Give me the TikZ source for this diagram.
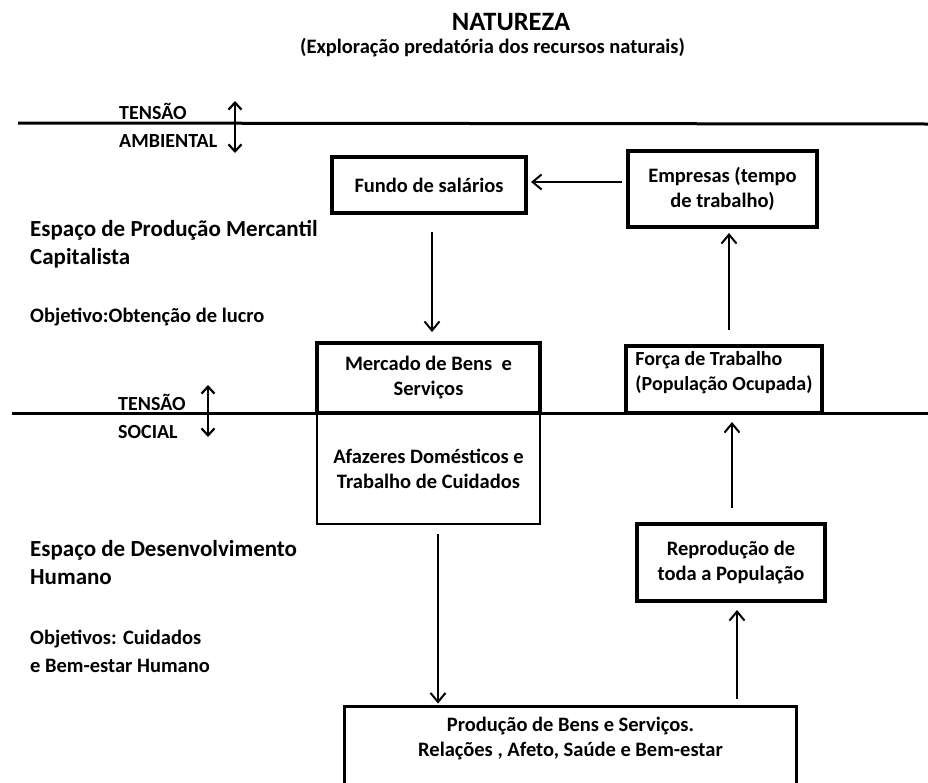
\documentclass[tikz,border=0pt]{standalone}
\usepackage{fontspec}
\setmainfont{Carlito}
\usepackage{tikz}
\usetikzlibrary{arrows.meta, positioning, calc}

\begin{document}
\begin{tikzpicture}[
    x=1pt, y=-1pt,
    mainbox/.style={rectangle, draw, line width=4pt, inner sep=0pt, align=center, font=\bfseries\fontsize{20.5}{25}\selectfont},
    softbox/.style={mainbox, line width=2.5pt},
    sidetext/.style={anchor=west, align=left, inner sep=0pt, font=\bfseries\fontsize{23}{28}\selectfont},
    goaltext/.style={sidetext, font=\bfseries\fontsize{20.5}{28}\selectfont},
    tenstext/.style={anchor=west, inner sep=0pt, font=\bfseries\fontsize{20}{22}\selectfont},
    arr/.style={-{Straight Barb[length=9pt, width=15pt]}, line width=2pt},
    tensarr/.style={{Straight Barb[length=7pt, width=13pt]}-{Straight Barb[length=7pt, width=13pt]}, line width=2.2pt},
    divline/.style={line width=3pt},
]
\useasboundingbox (0,0) rectangle (928,782);
\clip (0,0) rectangle (928,782);

% Title
\node[inner sep=0pt, font=\bfseries\fontsize{26.5}{30}\selectfont] (natureza) at (511,22) {NATUREZA};
\node[inner sep=0pt, font=\bfseries\fontsize{20.5}{24}\selectfont] (exploracao) at (492.5,48) {(Exploração predatória dos recursos naturais)};

% Tension lines
\coordinate (ambL) at (18,123);
\coordinate (ambR) at (928,124);
\coordinate (socL) at (12,413);
\coordinate (socR) at (928,413);
\draw[divline] (ambL) -- (ambR);
\draw[divline] (socL) -- (socR);

\node[tenstext] (tensamb) at (119,111) {TENSÃO};
\node[tenstext] (ambiental) at (119,141) {AMBIENTAL};
\node[tenstext] (tenssoc) at (118,402) {TENSÃO};
\node[tenstext] (social) at (118,432) {SOCIAL};
\coordinate (ambTop) at (235,101);
\coordinate (ambBot) at (235,153);
\coordinate (socTop) at (208,385);
\coordinate (socBot) at (208,437);
\draw[tensarr] (ambTop) -- (ambBot);
\draw[tensarr] (socTop) -- (socBot);

% Side labels
\node[sidetext] (mercantil) at (30,244) {Espaço de Produção Mercantil\\Capitalista};
\node[goaltext] (lucro) at (30,317) {Objetivo:Obtenção de lucro};
\node[sidetext] (desenvolvimento) at (30,563) {Espaço de Desenvolvimento\\Humano};
\node[goaltext] (cuidados) at (30,651) {Objetivos: Cuidados\\e Bem-estar Humano};

% Boxes
\node[mainbox, minimum width=194pt, minimum height=56pt] (fundo) at (429,185) {Fundo de salários};
\node[mainbox, minimum width=189pt, minimum height=76pt] (empresas) at (722.5,189) {Empresas (tempo\\de trabalho)};
\node[mainbox, minimum width=223pt, minimum height=70pt] (mercado) at (428.5,378) {Mercado de Bens~~e\\Serviços};
\node[softbox, minimum width=223pt, minimum height=111pt] (afazeres) at (428.5,468.5) {Afazeres Domésticos e\\Trabalho de Cuidados};
\node[mainbox, align=left, minimum width=196pt, minimum height=67pt, text depth=18pt, font=\bfseries\fontsize{20}{25}\selectfont] (forca) at (724,379.5) {Força de Trabalho\\(População Ocupada)};
\node[mainbox, minimum width=188pt, minimum height=77pt] (reproducao) at (731,562.5) {Reprodução de\\toda a População};
\node[softbox, line width=3pt, anchor=north, minimum width=452pt, inner ysep=11.5pt, text depth=80pt] (producao) at (570.5,704.5) {Produção de Bens e Serviços.\\Relações , Afeto, Saúde e Bem-estar};

% Flows
\draw[arr, shorten <=4pt, shorten >=3pt] ([yshift=7pt]empresas.west) -- ([yshift=7pt]empresas.west -| fundo.east);
\draw[arr, shorten <=17pt, shorten >=9pt] ([xshift=3pt]fundo.south) -- ([xshift=3pt]fundo.south |- mercado.north);
\draw[arr, shorten <=9pt, shorten >=1pt] ([xshift=9.5pt]afazeres.south) -- ([xshift=9.5pt]afazeres.south |- producao.north);
\draw[arr, shorten <=6pt, shorten >=7pt] ([xshift=6pt]reproducao.south |- producao.north) -- ([xshift=6pt]reproducao.south);
\draw[arr, shorten <=14pt, shorten >=7pt] ([xshift=1pt]reproducao.north) -- ([xshift=1pt]reproducao.north |- forca.south);
\draw[arr, shorten <=14pt, shorten >=4pt] ([xshift=5pt]forca.north) -- ([xshift=5pt]forca.north |- empresas.south);
\end{tikzpicture}
\end{document}
